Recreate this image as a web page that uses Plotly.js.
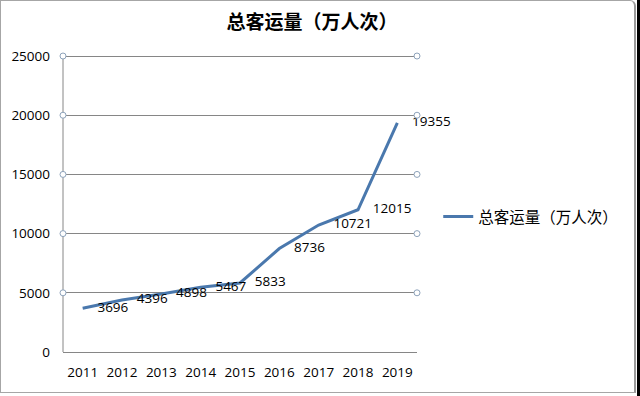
<!DOCTYPE html>
<html>
<head>
<meta charset="utf-8">
<script src="https://cdn.plot.ly/plotly-3.0.1.min.js"></script>
<style>
html,body{margin:0;padding:0;background:#fff;}
#wrap{position:relative;width:640px;height:396px;background:#fff;overflow:hidden;}
#chart{position:absolute;left:0;top:0;width:637px;height:396px;background:#fff;}
#strip{position:absolute;left:637px;top:0;width:3px;height:396px;background:#000;}
#frame{position:absolute;left:0;top:0;width:633px;height:391px;border:1px solid #a6a6a6;border-right:2px solid #9a9a9a;border-top-right-radius:6px;pointer-events:none;}
</style>
</head>
<body>
<div id="wrap"><div id="chart"></div><div id="strip"></div><div id="frame"></div></div>
<script>
const years = ['2011','2012','2013','2014','2015','2016','2017','2018','2019'];
const passengers = [3696, 4396, 4898, 5467, 5833, 8736, 10721, 12015, 19355];
const yTicks = [0, 5000, 10000, 15000, 20000, 25000];
const seriesName = '总客运量（万人次）';
const chartTitle = '总客运量（万人次）';

const yMax = yTicks[yTicks.length - 1];
const shapes = [{
  type: 'line', xref: 'paper', yref: 'y', x0: 0, x1: 0, y0: 0, y1: yMax,
  line: {color: '#868686', width: 1}
}];
yTicks.filter(v => v > 0).forEach(v => {
  [0, 1].forEach(px => {
    shapes.push({
      type: 'circle', xref: 'paper', yref: 'y',
      xsizemode: 'pixel', ysizemode: 'pixel',
      xanchor: px, yanchor: v,
      x0: -3, x1: 3, y0: -3, y1: 3,
      line: {color: '#8ea3bb', width: 1}, fillcolor: '#ffffff'
    });
  });
});

const trace = {
  x: years, y: passengers, name: seriesName,
  type: 'scatter', mode: 'lines+markers+text',
  line: {color: '#4a78ad', width: 3},
  marker: {size: 22, color: 'rgba(0,0,0,0)'},
  text: passengers.map(String),
  textposition: 'middle right',
  textfont: {family: 'Open Sans, Noto Sans, sans-serif', size: 13.5, color: '#000'},
  cliponaxis: false,
  hoverinfo: 'x+y'
};

const layout = {
  width: 637, height: 396,
  paper_bgcolor: 'rgba(0,0,0,0)', plot_bgcolor: '#fff',
  margin: {l: 63, r: 220, t: 52, b: 44},
  title: {text: chartTitle, x: 0.49, xanchor: 'center', y: 0.943, yanchor: 'middle',
    font: {family: 'Noto Sans CJK SC, sans-serif', size: 19, color: '#000', weight: 'bold'}},
  showlegend: true,
  legend: {x: 1.06, xanchor: 'left', y: 0.45, yanchor: 'middle', bgcolor: 'rgba(0,0,0,0)',
    font: {family: 'Noto Sans CJK SC, sans-serif', size: 15.5, color: '#000'}, itemwidth: 30},
  xaxis: {type: 'category', range: [-0.5, 8.5], showgrid: false, showline: true,
    linecolor: '#868686', linewidth: 1, ticks: '', ticklabelstandoff: 8,
    tickfont: {family: 'Open Sans, Noto Sans, sans-serif', size: 13.5, color: '#000'}, fixedrange: true},
  yaxis: {range: [0, 25340], tickvals: yTicks, ticktext: yTicks.map(String),
    showgrid: true, gridcolor: '#868686', gridwidth: 1, zeroline: false,
    showline: false, ticks: '', ticklabelstandoff: 12,
    tickfont: {family: 'Open Sans, Noto Sans, sans-serif', size: 13.5, color: '#000'}, fixedrange: true},
  shapes: shapes
};

Plotly.newPlot('chart', [trace], layout, {displayModeBar: false, staticPlot: true});
</script>
</body>
</html>
